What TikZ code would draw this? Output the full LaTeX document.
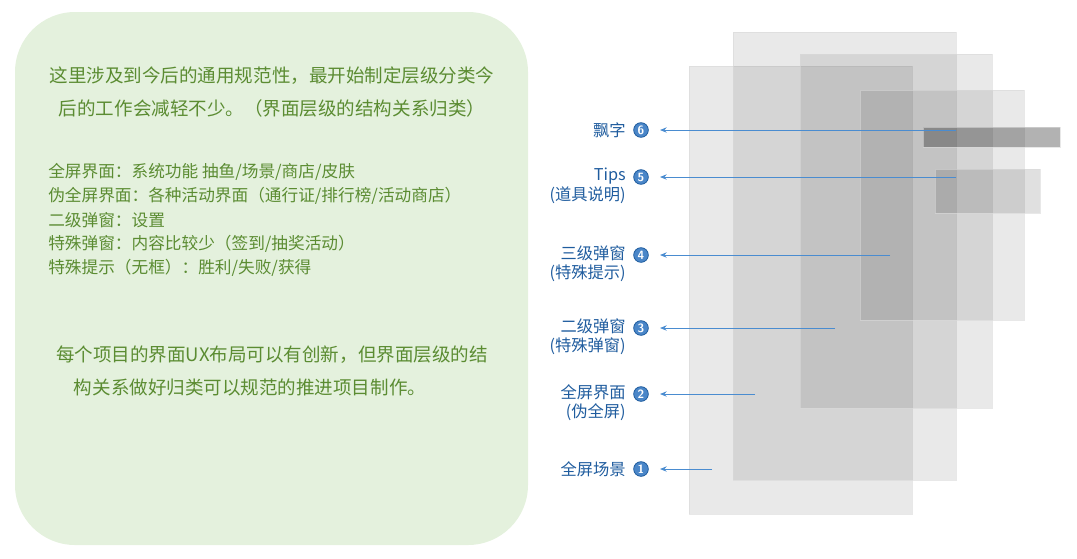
\documentclass[tikz,border=0pt]{standalone}
\usepackage{fontspec}
\newfontfamily\cjk{Noto Sans CJK SC}
\usetikzlibrary{arrows.meta}
\definecolor{gtxt}{HTML}{5B8C32}
\definecolor{gbg}{HTML}{E4F1DD}
\definecolor{btxt}{HTML}{1F5C9E}
\definecolor{bcirc}{HTML}{4A86C8}
\definecolor{barrow}{HTML}{4A8CD0}
\tikzset{
 lay/.style={fill=black,fill opacity=0.085,draw=black!15,draw opacity=0.6,line width=0.6pt},
 gt/.style={font=\cjk\fontsize{13.9}{15}\selectfont,text=gtxt,inner sep=0},
 lt/.style={font=\cjk\fontsize{12.5}{14}\selectfont,text=gtxt,inner sep=0,anchor=west},
 lab/.style={font=\cjk\fontsize{12.2}{14.5}\selectfont,text=btxt,align=right,anchor=east,inner sep=0},
 num/.style={circle,fill=bcirc,draw=btxt,line width=0.6pt,text=white,font=\sffamily\bfseries\fontsize{9}{9}\selectfont,inner sep=0,minimum size=11pt},
 arr/.style={draw=barrow,line width=0.7pt,-{Stealth[length=5pt,width=4pt]}}
}
\begin{document}
\begin{tikzpicture}[x=0.75pt,y=-0.75pt]
\useasboundingbox (0,0) rectangle (1077,558);
\fill[gbg,rounded corners=45] (15,12) rectangle (528,545);
\node[gt] (h1) at (272,76) {这里涉及到今后的通用规范性，最开始制定层级分类今};
\node[gt] (h2) at (272,108) {后的工作会减轻不少。（界面层级的结构关系归类）};
\node[lt] (l1) at (48,172) {全屏界面：系统功能 抽鱼/场景/商店/皮肤};
\node[lt] (l2) at (48,196) {伪全屏界面：各种活动界面（通行证/排行榜/活动商店）};
\node[lt] (l3) at (48,220) {二级弹窗：设置};
\node[lt] (l4) at (48,244) {特殊弹窗：内容比较少（签到/抽奖活动）};
\node[lt] (l5) at (48,268) {特殊提示（无框）：胜利/失败/获得};
\node[gt] (b1) at (272,355) {每个项目的界面UX布局可以有创新，但界面层级的结};
\node[gt] (b2) at (250,387) {构关系做好归类可以规范的推进项目制作。};
\path[lay] (689,66) rectangle (912,514);
\path[lay] (733,32) rectangle (956,480);
\path[lay] (800,54) rectangle (992,408);
\path[lay] (860,90) rectangle (1024,320);
\path[lay,fill opacity=0.12] (935,169) rectangle (1040,213);
\path[lay,fill opacity=0.3] (923,127) rectangle (1060,147);
\coordinate (e6) at (956,130);
\coordinate (e5) at (956,177);
\coordinate (e4) at (890,255);
\coordinate (e3) at (835,328);
\coordinate (e2) at (755,394);
\coordinate (e1) at (712,469);
\foreach \i/\y in {6/130,5/177,4/255,3/328,2/394,1/469}{
 \node[num] (n\i) at (641,\y) {\i};
 \coordinate (t\i) at (660,\y);
 \draw[arr] (e\i) -- (t\i);
}
\node[lab] (a6) at (626,130) {飘字};
\node[lab,anchor=north east] (a5) at (626,168) {Tips\\(道具说明)};
\node[lab,anchor=north east] (a4) at (626,245) {三级弹窗\\(特殊提示)};
\node[lab,anchor=north east] (a3) at (626,318) {二级弹窗\\(特殊弹窗)};
\node[lab,anchor=north east] (a2) at (626,384) {全屏界面\\(伪全屏)};
\node[lab] (a1) at (626,469) {全屏场景};
\end{tikzpicture}
\end{document}
